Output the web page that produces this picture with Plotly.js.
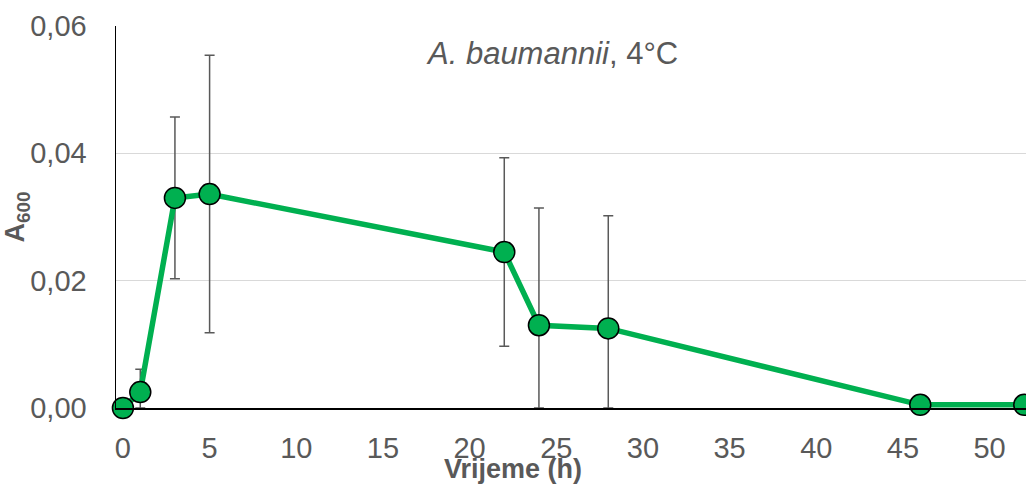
<!DOCTYPE html>
<html>
<head>
<meta charset="utf-8">
<script src="https://cdn.plot.ly/plotly-3.0.1.min.js"></script>
<style>html,body{margin:0;padding:0;background:#fff;}#chart{width:1026px;height:487px;}</style>
</head>
<body>
<div id="chart"></div>
<script>
// Data
const timeH = [0, 1, 3, 5, 22, 24, 28, 46, 52];
const a600 = [0, 0.0025, 0.033, 0.0336, 0.0245, 0.013, 0.0125, 0.0005, 0.0005];
const errPlus = [0, 0.0036, 0.0127, 0.0218, 0.0148, 0.0184, 0.0177, 0, 0];
const errMinus = [0, 0.0025, 0.0127, 0.0218, 0.0148, 0.013, 0.0125, 0, 0];
const yTickVals = [0, 0.02, 0.04, 0.06];
const yTickText = ['0,00', '0,02', '0,04', '0,06'];
const xTickVals = [0, 5, 10, 15, 20, 25, 30, 35, 40, 45, 50];
const chartTitle = '<i>A. baumannii</i>, 4°C';
const xTitle = '<b>Vrijeme (h)</b>';
const yTitle = '<b>A<sub>600</sub></b>';

const green = '#00B050';
const grey = '#595959';
const font = 'Liberation Sans, Arial, sans-serif';

const trace = {
  x: timeH,
  y: a600,
  type: 'scatter',
  mode: 'lines+markers',
  cliponaxis: false,
  line: {color: green, width: 5.5},
  marker: {color: green, size: 21, line: {color: '#000', width: 1.5}},
  error_y: {
    type: 'data', symmetric: false,
    array: errPlus, arrayminus: errMinus,
    color: grey, thickness: 1.5, width: 5
  },
  hoverinfo: 'x+y'
};

const layout = {
  width: 1026, height: 487,
  margin: {l: 116, r: 0, t: 26, b: 79},
  paper_bgcolor: '#fff', plot_bgcolor: '#fff',
  showlegend: false,
  font: {family: font, color: grey},
  xaxis: {
    range: [-0.4, 52.1],
    tickvals: xTickVals,
    ticktext: xTickVals.map(String),
    tickfont: {size: 29, color: grey, family: font},
    showgrid: false,
    zeroline: false,
    showline: true, linecolor: '#000', linewidth: 1.5,
    ticks: 'outside', ticklen: 0, ticklabelstandoff: 14,
    automargin: false
  },
  yaxis: {
    range: [0, 0.06],
    tickvals: yTickVals,
    ticktext: yTickText,
    tickfont: {size: 29, color: grey, family: font},
    showgrid: true, gridcolor: '#D9D9D9', gridwidth: 1.5,
    zeroline: false,
    showline: true, linecolor: '#000', linewidth: 1.5,
    ticks: 'outside', ticklen: 0, ticklabelstandoff: 22,
    title: {text: yTitle, font: {size: 27, color: grey, family: font}, standoff: 0},
    automargin: false
  },
  annotations: [{
    text: chartTitle,
    xref: 'paper', yref: 'paper',
    x: 0.4786, y: 0.929,
    xanchor: 'center', yanchor: 'middle',
    showarrow: false,
    font: {size: 31, color: grey, family: font}
  }, {
    text: xTitle,
    xref: 'paper', yref: 'paper',
    x: (513 - 116) / 910, y: -(469 - 408) / 382,
    xanchor: 'center', yanchor: 'middle',
    showarrow: false, borderpad: 0,
    font: {size: 27, color: grey, family: font}
  }]
};

Plotly.newPlot('chart', [trace], layout, {displayModeBar: false, staticPlot: true});
</script>
</body>
</html>
